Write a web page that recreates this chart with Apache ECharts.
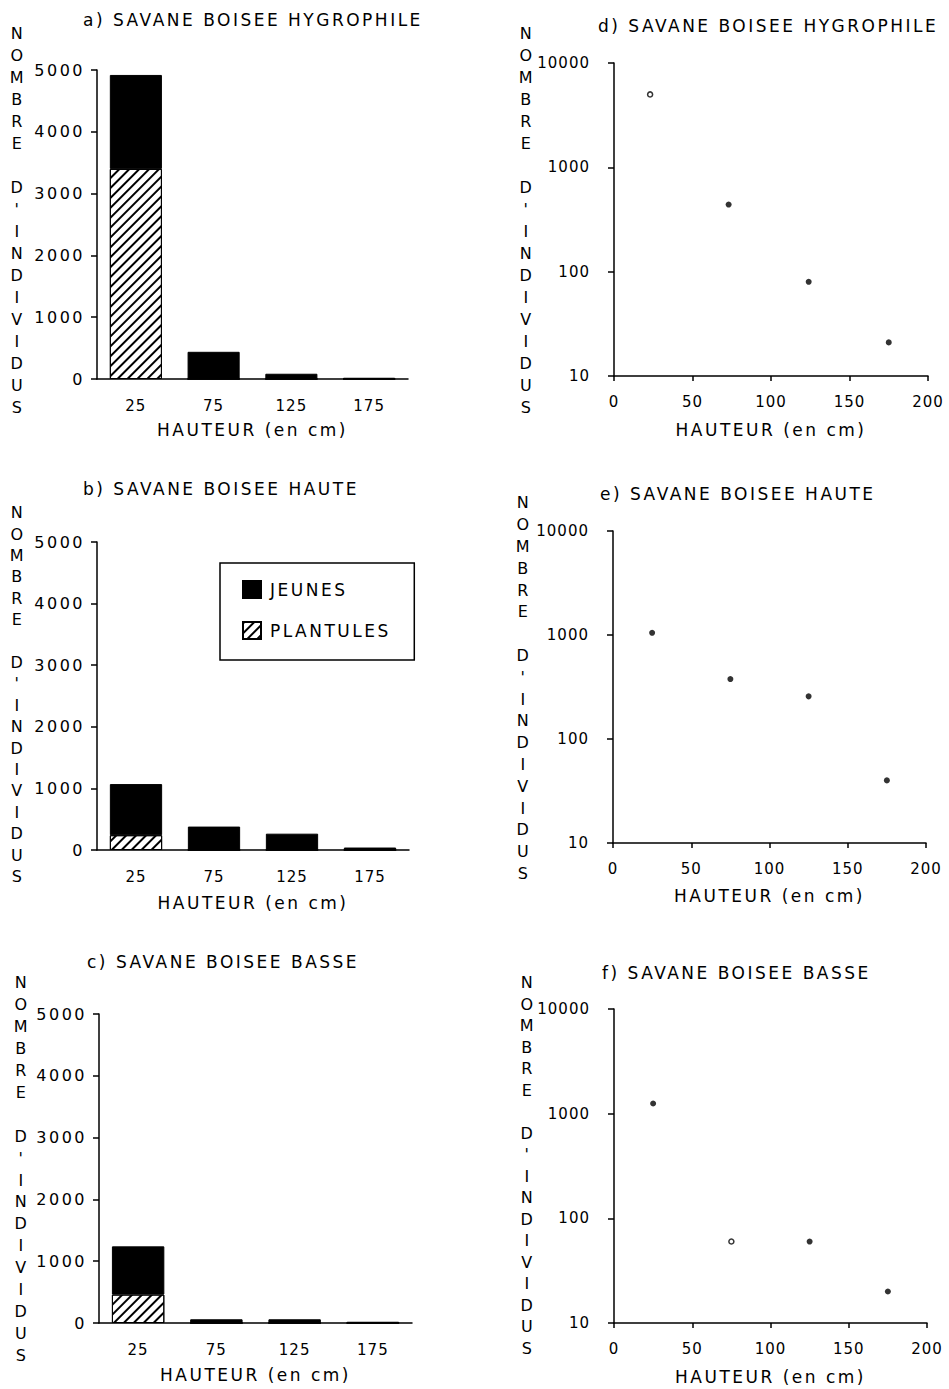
<!DOCTYPE html>
<html>
<head>
<meta charset="utf-8">
<script src="https://cdn.jsdelivr.net/npm/echarts@6/dist/echarts.min.js"></script>
<style>
html, body { margin: 0; padding: 0; background: #fff; }
#chart { width: 949px; height: 1389px; }
#chart text { letter-spacing: 2.5px; }
#chart text[style*="15px"] { letter-spacing: 1px; }
</style>
</head>
<body>
<div id="chart"></div>
<script>
// ---- data ----
const barCategories = ['25', '75', '125', '175'];
const plantulesA = [3400, 0, 0, 0];
const jeunesA = [1520, 440, 85, 20];
const plantulesB = [240, 0, 0, 0];
const jeunesB = [830, 380, 265, 40];
const plantulesC = [460, 0, 0, 0];
const jeunesC = [780, 60, 60, 20];

const hauteurD = [23, 73, 124, 175];
const totalD = [5000, 440, 80, 21];
const hauteurE = [25, 75, 125, 175];
const totalE = [1050, 377, 257, 40];
const hauteurF = [25, 75, 125, 175];
const totalF = [1250, 60, 60, 20];

const barYTicks = [0, 1000, 2000, 3000, 4000, 5000];
const logYTicks = [10, 100, 1000, 10000];
const scatterXTicks = [0, 50, 100, 150, 200];

const titlesText = [
  'a) SAVANE BOISEE HYGROPHILE',
  'b) SAVANE BOISEE HAUTE',
  'c) SAVANE BOISEE BASSE',
  'd) SAVANE BOISEE HYGROPHILE',
  'e) SAVANE BOISEE HAUTE',
  'f) SAVANE BOISEE BASSE'
];
const xName = 'HAUTEUR (en cm)';
const yNameLetters = ['N','O','M','B','R','E','','D',"'",'I','N','D','I','V','I','D','U','S'];
const legendNames = ['JEUNES', 'PLANTULES'];

// ---- layout ----
const FONT = 'DejaVu Sans';
const grids = [
  {left: 97, top: 70, width: 311, height: 309},
  {left: 97, top: 542, width: 312, height: 308},
  {left: 99, top: 1014, width: 313, height: 309},
  {left: 614, top: 63, width: 314, height: 313},
  {left: 613, top: 531, width: 313, height: 312},
  {left: 614, top: 1009, width: 313, height: 314}
];
const titlePos = [[83, 21], [83, 490], [87, 963], [598, 27], [600, 495], [602, 974]];
const yNamePos = [[18, 22, 22], [18, 502, 21.4], [22, 972, 21.9], [527, 22, 22], [524, 492, 21.8], [528, 972, 21.5]];
const xNameGap = [42, 44, 43, 45, 44, 45];
const xLabelMargin = [19, 19, 19, 18, 18, 18];

const axisLineStyle = {color: '#000', width: 1.5};
const plainNum = v => String(v);
const hatch = {
  symbol: 'rect', symbolSize: 1,
  dashArrayX: [1, 0], dashArrayY: [1.5, 5],
  rotation: -Math.PI / 4, color: '#000'
};

const xAxes = [], yAxes = [], series = [];

function barPanel(i, plant, jeunes) {
  xAxes.push({
    gridIndex: i, type: 'category', data: barCategories,
    axisLine: {lineStyle: axisLineStyle},
    axisTick: {length: 6, lineStyle: axisLineStyle},
    axisLabel: {color: '#000', fontSize: 15, fontFamily: FONT, margin: xLabelMargin[i]},
    name: xName, nameLocation: 'middle', nameGap: xNameGap[i],
    nameTextStyle: {color: '#000', fontSize: 17, fontFamily: FONT}
  });
  yAxes.push({
    gridIndex: i, type: 'value', min: barYTicks[0], max: barYTicks[barYTicks.length - 1],
    interval: barYTicks[1] - barYTicks[0],
    axisLine: {show: true, lineStyle: axisLineStyle},
    axisTick: {show: true, length: 6, lineStyle: axisLineStyle},
    axisLabel: {color: '#000', fontSize: 16, fontFamily: FONT, margin: 12, formatter: plainNum},
    splitLine: {show: false}
  });
  series.push({
    type: 'bar', name: legendNames[1], stack: 'st' + i,
    xAxisIndex: i, yAxisIndex: i, data: plant,
    barCategoryGap: '33%',
    itemStyle: {color: '#fff', borderColor: '#000', borderWidth: 1, decal: hatch}
  });
  series.push({
    type: 'bar', name: legendNames[0], stack: 'st' + i,
    xAxisIndex: i, yAxisIndex: i, data: jeunes,
    barCategoryGap: '33%',
    itemStyle: {color: '#000', borderColor: '#000', borderWidth: 1}
  });
}

function logPanel(i, xs, ys, openIndex) {
  xAxes.push({
    gridIndex: i, type: 'value', min: scatterXTicks[0], max: scatterXTicks[scatterXTicks.length - 1],
    interval: scatterXTicks[1] - scatterXTicks[0],
    axisLine: {lineStyle: axisLineStyle},
    axisTick: {length: 5, lineStyle: axisLineStyle},
    axisLabel: {color: '#000', fontSize: 15, fontFamily: FONT, margin: xLabelMargin[i], formatter: plainNum},
    splitLine: {show: false},
    name: xName, nameLocation: 'middle', nameGap: xNameGap[i],
    nameTextStyle: {color: '#000', fontSize: 17, fontFamily: FONT}
  });
  yAxes.push({
    gridIndex: i, type: 'log', logBase: 10,
    min: logYTicks[0], max: logYTicks[logYTicks.length - 1],
    axisLine: {show: true, lineStyle: axisLineStyle},
    axisTick: {show: true, length: 6, lineStyle: axisLineStyle},
    minorTick: {show: false},
    axisLabel: {color: '#000', fontSize: 15, fontFamily: FONT, margin: 24, formatter: plainNum},
    splitLine: {show: false}
  });
  series.push({
    type: 'scatter', xAxisIndex: i, yAxisIndex: i, symbol: 'circle', symbolSize: 6,
    itemStyle: {color: '#000'},
    data: xs.map((x, k) => k === openIndex
      ? {value: [x, ys[k]], itemStyle: {color: '#fff', borderColor: '#000', borderWidth: 1.5}, symbolSize: 5}
      : [x, ys[k]])
  });
}

barPanel(0, plantulesA, jeunesA);
barPanel(1, plantulesB, jeunesB);
barPanel(2, plantulesC, jeunesC);
logPanel(3, hauteurD, totalD, 0);
logPanel(4, hauteurE, totalE, -1);
logPanel(5, hauteurF, totalF, 1);

const titles = titlesText.map((t, i) => ({
  text: t, left: titlePos[i][0], top: titlePos[i][1] - 10, padding: 0,
  textStyle: {color: '#000', fontSize: 17, fontWeight: 'normal', fontFamily: FONT}
}));

const graphics = yNamePos.map(p => ({
  type: 'text', x: p[0], y: p[1], silent: true,
  style: {
    text: yNameLetters.join('\n'), fill: '#000', fontSize: 16, fontFamily: FONT,
    align: 'center', verticalAlign: 'top', lineHeight: p[2]
  }
}));

const chart = echarts.init(document.getElementById('chart'), null, {renderer: 'svg'});
chart.setOption({
  animation: false,
  backgroundColor: '#fff',
  title: titles,
  grid: grids,
  xAxis: xAxes,
  yAxis: yAxes,
  series: series,
  graphic: graphics,
  legend: {
    data: legendNames,
    orient: 'vertical',
    left: 220, top: 563,
    padding: [17, 46, 20, 22],
    itemWidth: 18, itemHeight: 17, itemGap: 22,
    borderColor: '#000', borderWidth: 1.5,
    icon: 'rect',
    textStyle: {color: '#000', fontSize: 17, fontFamily: FONT, padding: [0, 0, 0, 4]}
  }
});
</script>
</body>
</html>
